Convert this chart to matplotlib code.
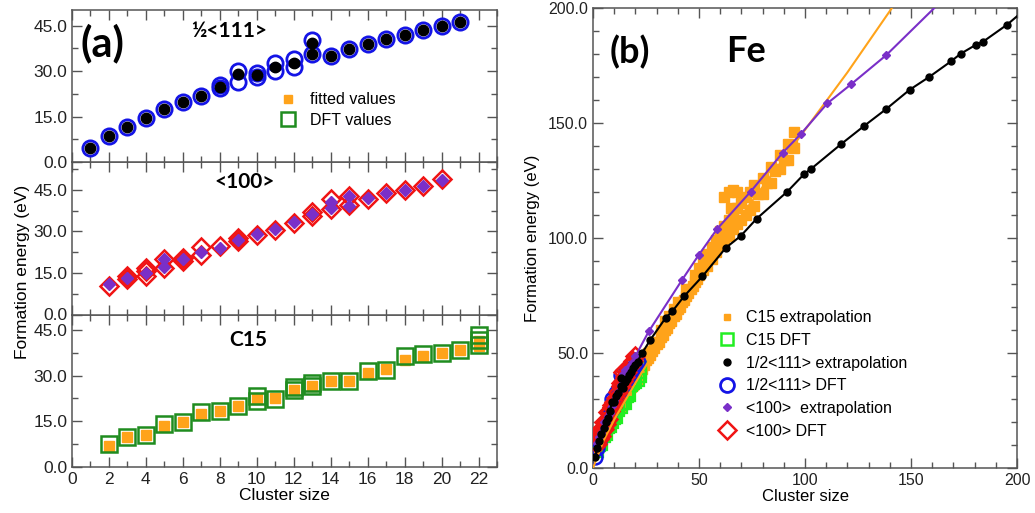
# Formation energy of SIA clusters in Fe: (a) fitted vs DFT, (b) extrapolation
import matplotlib
matplotlib.use('Agg')
import matplotlib.pyplot as plt
from matplotlib.ticker import MultipleLocator, FormatStrFormatter
from matplotlib.lines import Line2D

plt.rcParams['font.family'] = ['Liberation Sans', 'DejaVu Sans']

# ---- panel (a) data ----
# 1/2<111>
h111_fit_x = [1, 2, 3, 4, 5, 6, 7, 8, 9, 10, 11, 12, 13, 13, 14, 15, 16, 17, 18, 19, 20, 21]
h111_fit_y = [4.6, 8.7, 11.6, 14.6, 17.4, 19.9, 21.8, 24.9, 28.9, 28.6, 31.3, 32.5, 39.3, 35.5,
              34.9, 37.3, 38.8, 40.6, 41.8, 43.5, 45.0, 46.3]
h111_dft_x = [1, 2, 3, 4, 5, 6, 7, 8, 8, 9, 9, 10, 10, 11, 11, 12, 12, 13, 13, 14, 15, 16, 17,
              18, 19, 20, 21]
h111_dft_y = [4.6, 8.7, 11.6, 14.6, 17.4, 19.9, 21.8, 24.3, 25.5, 29.9, 26.3, 29.2, 28.0, 32.5,
              30.0, 33.9, 31.3, 40.4, 35.5, 34.9, 37.3, 38.8, 40.6, 41.8, 43.5, 45.0, 46.3]
# <100>
d100_fit_x = [2, 3, 4, 5, 5, 6, 7, 8, 9, 10, 11, 12, 13, 14, 14, 15, 15, 16, 17, 18, 19, 20]
d100_fit_y = [10.9, 13.3, 15.1, 19.9, 17.2, 20.1, 22.6, 24.1, 26.9, 29.0, 31.0, 33.2, 36.2, 40.7,
              38.5, 42.6, 39.2, 41.9, 44.0, 45.0, 46.2, 48.6]
d100_dft_x = [2, 3, 3, 4, 4, 4, 5, 5, 6, 6, 7, 7, 8, 9, 9, 10, 11, 12, 13, 13, 14, 14, 15, 15,
              16, 17, 18, 19, 20]
d100_dft_y = [10.3, 12.7, 13.9, 13.9, 15.7, 16.9, 20.1, 16.9, 20.5, 19.3, 24.4, 21.5, 24.6, 27.6,
              26.4, 28.6, 30.5, 33.0, 36.8, 35.5, 41.6, 38.0, 42.8, 39.4, 41.6, 44.0, 45.0, 46.4, 48.8]
# C15
c15_fit_x = [2, 3, 4, 5, 6, 7, 8, 9, 10, 11, 12, 13, 14, 15, 16, 17, 18, 19, 20, 21, 22, 22]
c15_fit_y = [7.0, 10.0, 10.6, 13.6, 14.6, 17.4, 18.4, 20.1, 22.2, 22.6, 25.2, 26.6, 28.2, 28.2,
             30.9, 32.0, 35.2, 36.3, 37.4, 38.2, 41.2, 39.6]
c15_dft_x = [2, 3, 4, 5, 6, 7, 8, 9, 10, 10, 11, 12, 12, 13, 13, 14, 15, 16, 17, 18, 19, 20, 21,
             22, 22, 22]
c15_dft_y = [7.6, 10.0, 10.6, 14.1, 14.6, 17.9, 18.4, 20.1, 23.3, 21.7, 22.3, 26.3, 25.2, 27.7,
             26.6, 28.2, 28.2, 31.5, 31.7, 36.3, 36.9, 37.4, 38.2, 43.4, 41.8, 40.0]

# ---- panel (b) data (large clusters) ----
h111_ext_x = [23.2, 27.1, 34.2, 37.4, 42.9, 51.6, 62.6, 69.7, 77.2, 91.7, 99.6, 102.8, 117.0,
              128.0, 138.2, 149.3, 158.7, 169.0, 173.4, 180.8, 183.9, 195.4]
h111_ext_y = [50.0, 55.8, 65.2, 68.1, 74.6, 83.3, 95.7, 100.9, 108.4, 120.2, 127.8, 130.0, 140.8,
              148.8, 156.0, 164.4, 170.1, 176.9, 180.1, 184.1, 185.3, 192.8]
h111_line_end = (200.0, 196.4)

d100_ext_x = [26.3, 42.1, 50.0, 58.6, 74.4, 89.4, 98.0, 110.6, 121.7, 138.2]
d100_ext_y = [59.4, 81.9, 92.8, 104.0, 120.2, 137.0, 145.2, 158.6, 166.8, 179.4]
d100_line_end = (161.0, 200.0)

c15_ext_x = [23, 23, 24, 25, 26, 26, 27, 28, 29, 29, 30, 31, 32, 32, 33, 34, 34, 35, 36, 36,
             37, 38, 38, 39, 40, 40, 41, 42, 43, 44, 44, 45, 46, 47, 48, 48, 49, 50, 50, 52,
             52, 54, 54, 56, 56, 58, 58, 60, 60, 62, 62, 64, 64, 66, 66, 68, 68, 70, 70, 72,
             72, 74, 74, 76, 76, 78, 80, 80, 82, 84, 84, 86, 88, 88, 90, 92, 92, 94, 95, 95,
             62, 64, 66, 68, 65]
c15_ext_y = [43, 46, 45, 47, 48, 50, 49, 51, 52, 55, 54, 55, 57, 60, 58, 60, 64, 61, 63, 66,
             64, 66, 69, 67, 69, 72, 70, 72, 73, 75, 78, 76, 78, 79, 81, 84, 82, 84, 87, 86,
             89, 88, 93, 91, 96, 94, 99, 97, 103, 99, 105, 101, 108, 104, 110, 106, 113, 108, 115, 110,
             118, 112, 120, 114, 123, 119, 119, 126, 124, 124, 131, 129, 130, 136, 134, 134, 141, 140, 139, 146,
             118, 120, 121, 120, 113]
c15_line_x = [0, 5, 10, 20, 30, 50, 75, 100, 120, 141]
c15_line_y = [0, 12, 21, 37, 52, 84, 116, 147, 172, 200]

ORANGE = '#ffa31a'
PURPLE = '#7a2fc8'
BLUE = '#1414e6'
RED = '#f01414'
GREEN_A = '#1f8c1f'
GREEN_B = '#22ee22'
SPINE = '#555555'
BOLD = ['Lato', 'DejaVu Sans']

fig = plt.figure(figsize=(10.35, 5.13), dpi=100)


def style(ax):
    for s in ax.spines.values():
        s.set_color(SPINE)
        s.set_linewidth(1.1)
    ax.tick_params(which='both', direction='in', top=True, right=True, color=SPINE,
                   labelcolor='#222222', labelsize=12.5)
    ax.tick_params(which='major', length=7, width=1)
    ax.tick_params(which='minor', length=4, width=1)


# ---- panel (a) ----
L, W = 72 / 1035, 425 / 1035
hp = 152.5 / 513
ax_b = fig.add_axes([L, 46 / 513, W, hp])
ax_m = fig.add_axes([L, 46 / 513 + hp, W, hp])
ax_t = fig.add_axes([L, 46 / 513 + 2 * hp, W, hp])

ax_t.plot(h111_dft_x, h111_dft_y, 'o', ms=11, mfc='none', mec=BLUE, mew=2)
ax_t.plot(h111_fit_x, h111_fit_y, 'o', ms=7.5, color='black')
ax_m.plot(d100_dft_x, d100_dft_y, 'D', ms=9.5, mfc='none', mec=RED, mew=1.8)
ax_m.plot(d100_fit_x, d100_fit_y, 'D', ms=6.5, color=PURPLE)
ax_b.plot(c15_fit_x, c15_fit_y, 's', ms=7, color=ORANGE)
ax_b.plot(c15_dft_x, c15_dft_y, 's', ms=11, mfc='none', mec=GREEN_A, mew=1.8)

for ax, top in [(ax_t, 50.3), (ax_m, 55.0), (ax_b, 50.0)]:
    style(ax)
    ax.set_xlim(0, 23)
    ax.set_ylim(0, top)
    ax.xaxis.set_major_locator(MultipleLocator(2))
    ax.xaxis.set_minor_locator(MultipleLocator(1))
    ax.yaxis.set_major_locator(MultipleLocator(15))
    ax.yaxis.set_minor_locator(MultipleLocator(7.5))
    ax.yaxis.set_major_formatter(FormatStrFormatter('%.1f'))
for ax in (ax_t, ax_m):
    ax.tick_params(labelbottom=False)
ax_b.set_xlabel('Cluster size', fontsize=12.5, labelpad=1)
fig.text(0.022, 0.47, 'Formation energy (eV)', rotation=90, fontsize=12.5,
         ha='center', va='center')

ax_t.text(0.02, 0.78, '(a)', transform=ax_t.transAxes, fontsize=30, fontweight='bold',
          family=BOLD, va='center')
ax_t.text(0.37, 0.86, '½<111>', transform=ax_t.transAxes, fontsize=15, fontweight='bold',
          family=BOLD, ha='center', va='center')
ax_m.text(0.405, 0.87, '<100>', transform=ax_m.transAxes, fontsize=15, fontweight='bold',
          family=BOLD, ha='center', va='center')
ax_b.text(0.415, 0.83, 'C15', transform=ax_b.transAxes, fontsize=15, fontweight='bold',
          family=BOLD, ha='center', va='center')

h_a = [Line2D([], [], ls='none', marker='s', ms=6, color=ORANGE),
       Line2D([], [], ls='none', marker='s', ms=10, mfc='none', mec=GREEN_A, mew=1.8)]
ax_t.legend(h_a, ['fitted values', 'DFT values'], loc='upper left',
            bbox_to_anchor=(0.47, 0.51), frameon=False, fontsize=11.5,
            handlelength=1.0, handletextpad=0.9, labelspacing=0.35, borderpad=0)

# ---- panel (b) ----
ax2 = fig.add_axes([593 / 1035, 45 / 513, 424 / 1035, 460 / 513])
style(ax2)
ax2.tick_params(labelsize=11.5)

ax2.plot(c15_ext_x + c15_fit_x, c15_ext_y + c15_fit_y, 's', ms=7, color=ORANGE, zorder=2)
ax2.plot(c15_dft_x, c15_dft_y, 's', ms=9, mfc='none', mec=GREEN_B, mew=1.6, zorder=3)
ax2.plot(h111_dft_x, h111_dft_y, 'o', ms=10, mfc='none', mec=BLUE, mew=1.8, zorder=3)
ax2.plot(d100_dft_x, d100_dft_y, 'D', ms=9, mfc='none', mec=RED, mew=1.8, zorder=4)
ax2.plot(c15_line_x, c15_line_y, '-', lw=1.5, color=ORANGE, zorder=5)
ax2.plot(d100_fit_x + d100_ext_x + [d100_line_end[0]],
         d100_fit_y + d100_ext_y + [d100_line_end[1]], '-', lw=1.5, color=PURPLE, zorder=5)
ax2.plot(d100_fit_x + d100_ext_x, d100_fit_y + d100_ext_y, 'D', ms=4.5, ls='none',
         color=PURPLE, zorder=6)
h111_line_x = sorted(set(h111_fit_x))
h111_line_y = [min(v for x, v in zip(h111_fit_x, h111_fit_y) if x == s) for s in h111_line_x]
ax2.plot(h111_line_x + h111_ext_x + [h111_line_end[0]],
         h111_line_y + h111_ext_y + [h111_line_end[1]], '-', lw=1.5, color='black', zorder=6)
ax2.plot(h111_fit_x + h111_ext_x, h111_fit_y + h111_ext_y, 'o', ms=5, ls='none',
         color='black', zorder=7)

ax2.set_xlim(0, 200)
ax2.set_ylim(0, 200)
ax2.xaxis.set_major_locator(MultipleLocator(50))
ax2.xaxis.set_minor_locator(MultipleLocator(10))
ax2.yaxis.set_major_locator(MultipleLocator(50))
ax2.yaxis.set_minor_locator(MultipleLocator(10))
ax2.yaxis.set_major_formatter(FormatStrFormatter('%.1f'))
ax2.set_xlabel('Cluster size', fontsize=12, labelpad=1)
ax2.set_ylabel('Formation energy (eV)', fontsize=12, labelpad=6)

ax2.text(0.04, 0.905, '(b)', transform=ax2.transAxes, fontsize=26, fontweight='bold',
         family=BOLD, va='center')
ax2.text(0.315, 0.905, 'Fe', transform=ax2.transAxes, fontsize=26, fontweight='bold',
         family=BOLD, va='center')

h_b = [Line2D([], [], ls='none', marker='s', ms=5, color=ORANGE),
       Line2D([], [], ls='none', marker='s', ms=9, mfc='none', mec=GREEN_B, mew=1.8),
       Line2D([], [], ls='none', marker='o', ms=5, color='black'),
       Line2D([], [], ls='none', marker='o', ms=10, mfc='none', mec=BLUE, mew=2),
       Line2D([], [], ls='none', marker='D', ms=4.5, color=PURPLE),
       Line2D([], [], ls='none', marker='D', ms=9, mfc='none', mec=RED, mew=1.8)]
ax2.legend(h_b, ['C15 extrapolation', 'C15 DFT', '1/2<111> extrapolation', '1/2<111> DFT',
                 '<100>  extrapolation', '<100> DFT'],
           loc='upper left', bbox_to_anchor=(0.275, 0.36), frameon=False, fontsize=11.5,
           handlelength=1.2, handletextpad=0.6, labelspacing=0.48, borderpad=0)

fig.savefig('out.png', dpi=100)
